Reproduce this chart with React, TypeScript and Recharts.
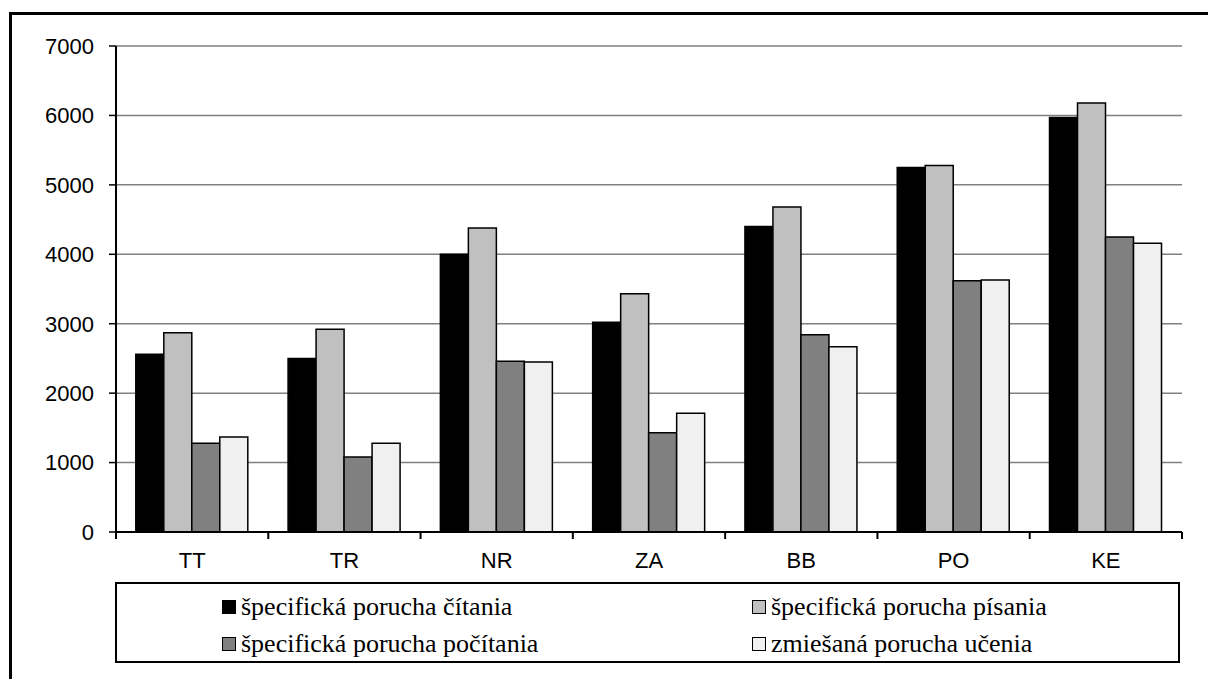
import { BarChart, Bar, XAxis, YAxis, CartesianGrid } from "recharts";

// počty detí podľa krajov
const regions = ["TT", "TR", "NR", "ZA", "BB", "PO", "KE"];
const citanie = [2560, 2500, 4000, 3020, 4400, 5250, 5970];
const pisanie = [2870, 2920, 4380, 3430, 4680, 5280, 6180];
const pocitanie = [1280, 1080, 2460, 1430, 2840, 3620, 4250];
const zmiesana = [1370, 1280, 2450, 1710, 2670, 3630, 4160];
const yTicks = [0, 1000, 2000, 3000, 4000, 5000, 6000, 7000];

const series = [
  { key: "citanie", name: "špecifická porucha čítania", fill: "#000000" },
  { key: "pisanie", name: "špecifická porucha písania", fill: "#C0C0C0" },
  { key: "pocitanie", name: "špecifická porucha počítania", fill: "#808080" },
  { key: "zmiesana", name: "zmiešaná porucha učenia", fill: "#F0F0F0" },
];

const data = regions.map((r, i) => ({
  region: r,
  citanie: citanie[i],
  pisanie: pisanie[i],
  pocitanie: pocitanie[i],
  zmiesana: zmiesana[i],
}));

const W = 1208;
const H = 679;
const PLOT_LEFT = 116;
const PLOT_RIGHT = 1182;
const PLOT_TOP = 46;
const PLOT_BOTTOM = 532;
const BAND = (PLOT_RIGHT - PLOT_LEFT) / regions.length;

const sans = "Liberation Sans, Arial, sans-serif";
const serif = "Liberation Serif, DejaVu Serif, serif";

const RegionTick = (props: any) => {
  const { x, payload, index } = props;
  const left = x - BAND / 2;
  return (
    <g>
      <line x1={left} y1={PLOT_BOTTOM} x2={left} y2={PLOT_BOTTOM + 7} stroke="#000" strokeWidth={2} />
      {index === regions.length - 1 && (
        <line x1={left + BAND} y1={PLOT_BOTTOM} x2={left + BAND} y2={PLOT_BOTTOM + 7} stroke="#000" strokeWidth={2} />
      )}
      <text x={x} y={PLOT_BOTTOM + 36} textAnchor="middle" fontSize={22} fontFamily={sans} fill="#000">
        {payload.value}
      </text>
    </g>
  );
};

export default function App() {
  return (
    <div style={{ position: "absolute", left: 0, top: 0, width: W, height: H, overflow: "hidden", background: "#fff" }}>
      <div
        style={{
          position: "absolute",
          left: 9,
          top: 12,
          width: W + 20,
          height: H + 20,
          border: "3px solid #000",
        }}
      />
      <div style={{ position: "absolute", left: 0, top: 0 }}>
        <BarChart
          width={W}
          height={H}
          data={data}
          margin={{ top: PLOT_TOP, right: W - PLOT_RIGHT, left: 0, bottom: H - PLOT_BOTTOM - 40 }}
          barCategoryGap="13%"
          barGap={0}
        >
          <CartesianGrid horizontal vertical={false} stroke="#808080" strokeWidth={1.5} />
          <XAxis
            dataKey="region"
            height={40}
            axisLine={{ stroke: "#000", strokeWidth: 2 }}
            tickLine={false}
            tick={<RegionTick />}
            interval={0}
          />
          <YAxis
            width={PLOT_LEFT}
            domain={[0, 7000]}
            ticks={yTicks}
            axisLine={{ stroke: "#000", strokeWidth: 2 }}
            tickLine={{ stroke: "#000", strokeWidth: 1.5 }}
            tickSize={7}
            tickMargin={15}
            tick={{ fill: "#000", fontSize: 22, fontFamily: sans }}
          />
          <YAxis
            yAxisId="frame"
            orientation="right"
            width={0}
            tick={false}
            tickLine={false}
            axisLine={{ stroke: "#000", strokeWidth: 2 }}
          />
          {series.map((s) => (
            <Bar
              key={s.key}
              dataKey={s.key}
              name={s.name}
              fill={s.fill}
              stroke="#000"
              strokeWidth={1.5}
              isAnimationActive={false}
            />
          ))}
        </BarChart>
      </div>
      <div
        style={{
          position: "absolute",
          left: 115,
          top: 582,
          width: 1065,
          height: 81,
          boxSizing: "border-box",
          border: "2px solid #000",
          background: "#fff",
          display: "grid",
          gridTemplateColumns: "530px 430px",
          paddingLeft: 105,
          paddingTop: 8,
          rowGap: 4,
          fontFamily: serif,
          fontSize: 26,
          color: "#000",
        }}
      >
        {series.map((s) => (
          <div key={s.key} style={{ display: "flex", alignItems: "center", height: 30, whiteSpace: "nowrap" }}>
            <span
              style={{
                display: "inline-block",
                width: 12,
                height: 12,
                background: s.fill,
                border: "1.5px solid #000",
                marginRight: 5,
              }}
            />
            {s.name}
          </div>
        ))}
      </div>
    </div>
  );
}
